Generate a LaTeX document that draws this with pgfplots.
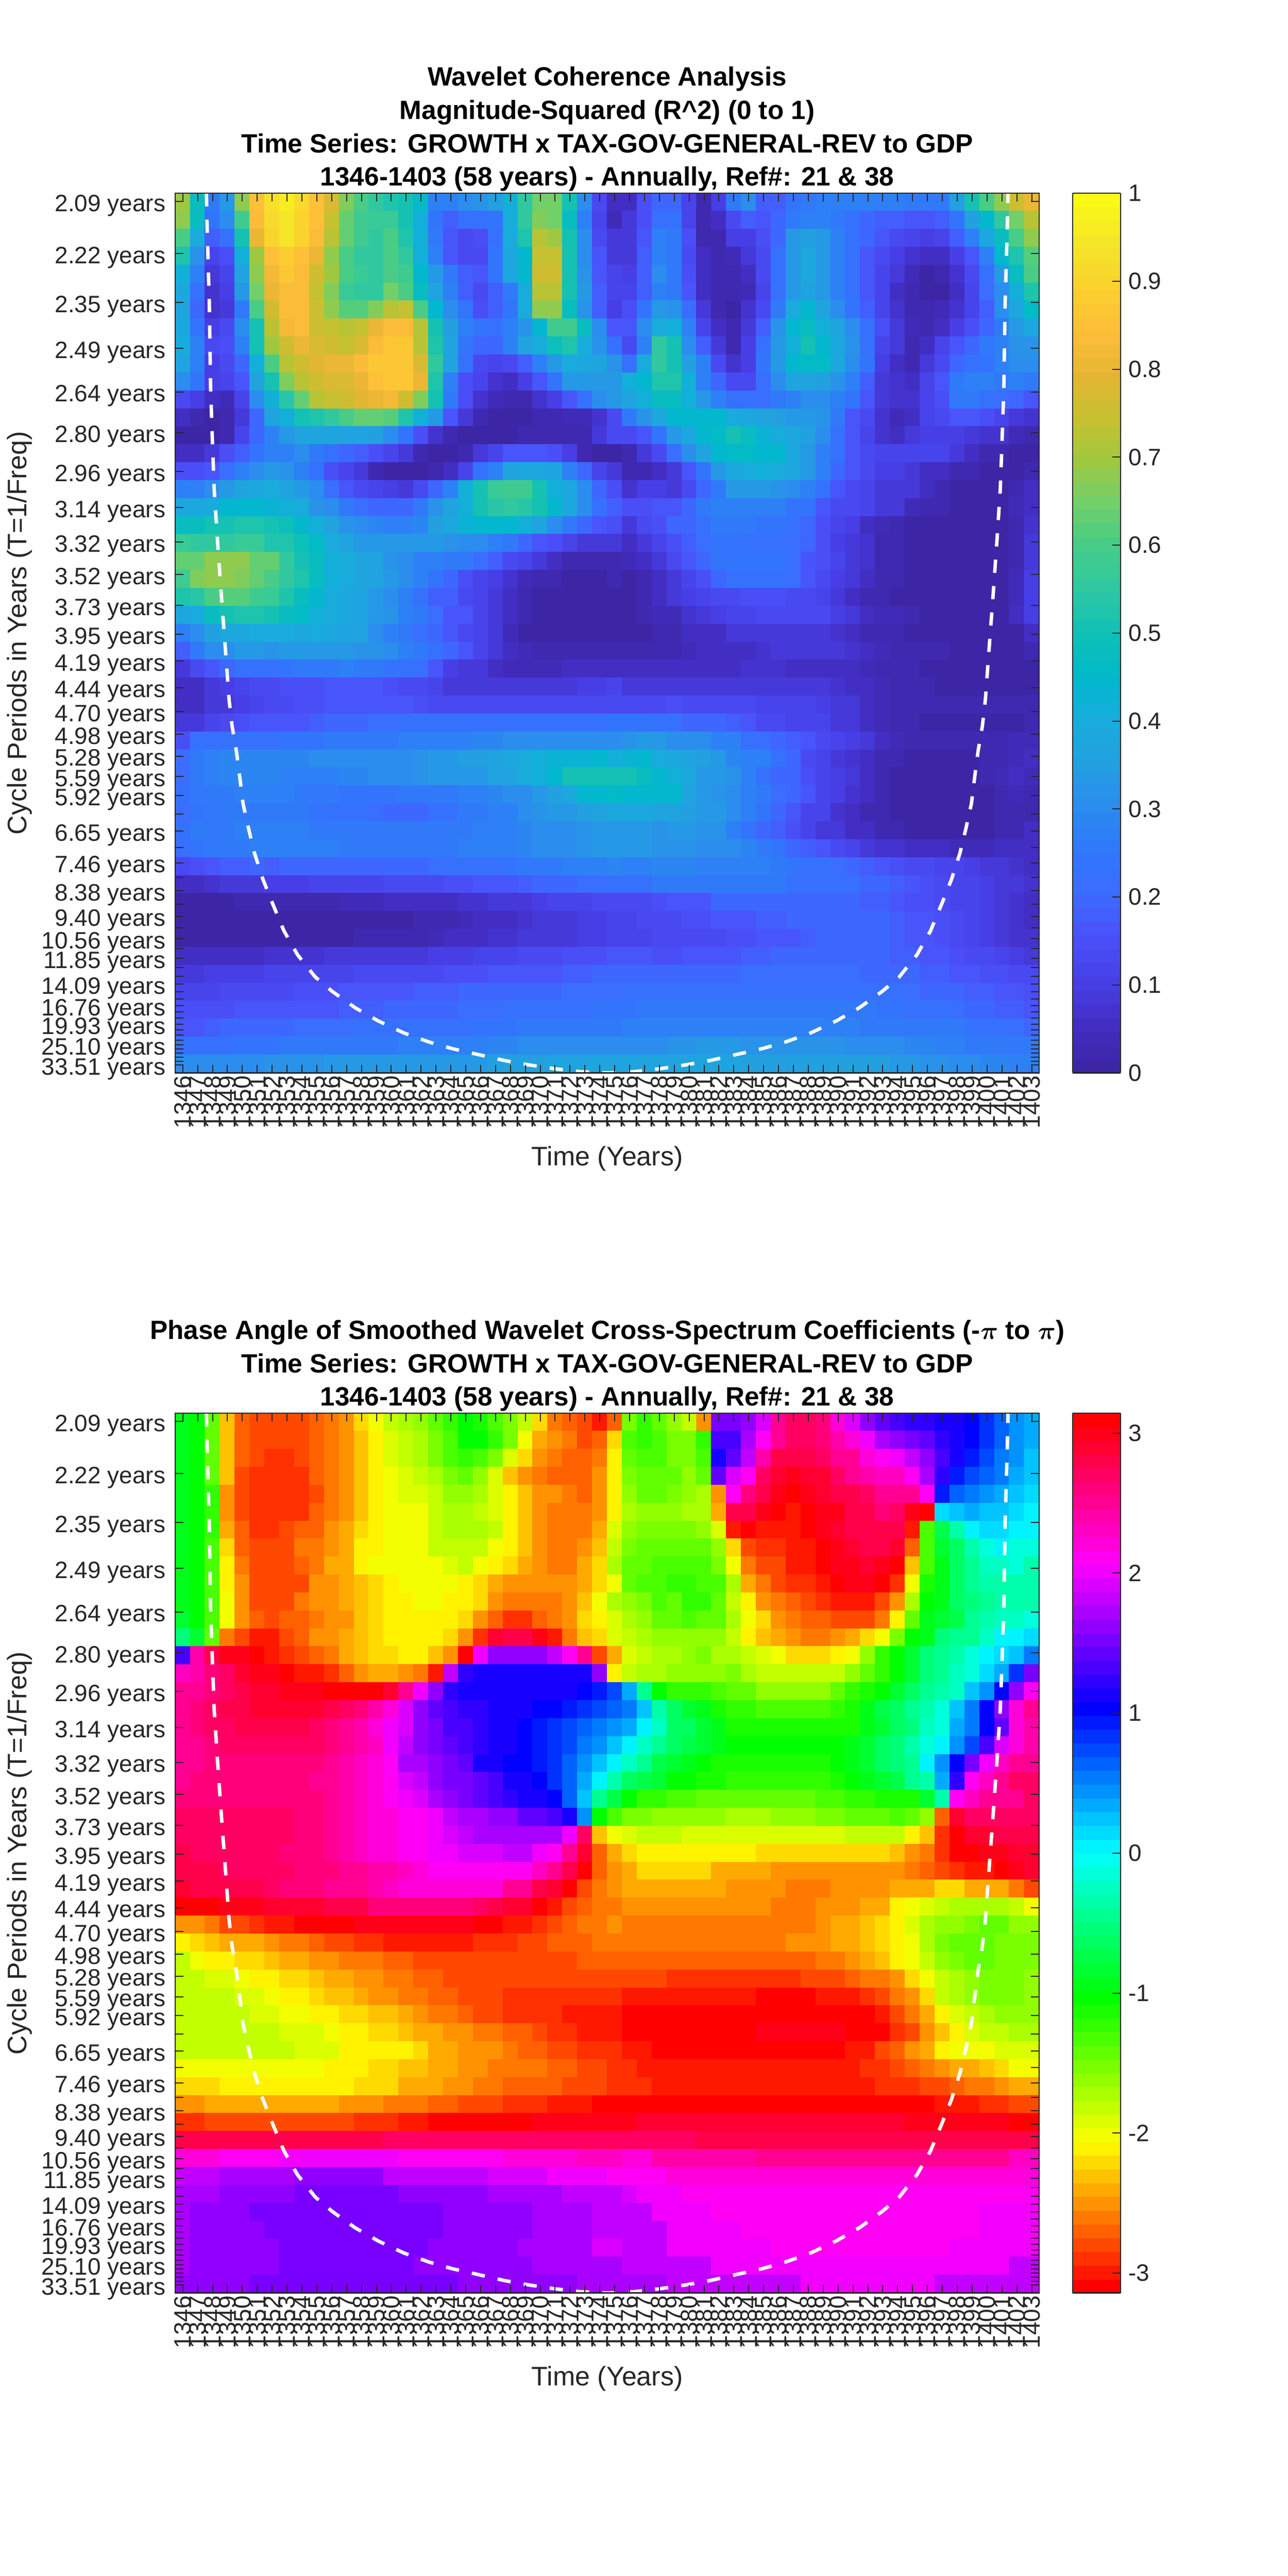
\documentclass[border=0pt]{standalone}
\usepackage{fontspec}
\setmainfont{Liberation Sans}
\usepackage{pgfplots}
\pgfplotsset{compat=1.18}
\definecolor{axc}{HTML}{262626}
\pgfplotsset{
 colormap={wave}{rgb255=(60,38,166) rgb255=(66,46,196) rgb255=(72,64,232) rgb255=(74,80,250) rgb255=(58,108,255) rgb255=(48,120,251) rgb255=(43,140,238) rgb255=(34,160,224) rgb255=(24,172,220) rgb255=(0,184,204) rgb255=(16,192,181) rgb255=(46,200,162) rgb255=(69,204,136) rgb255=(112,208,104) rgb255=(160,200,64) rgb255=(200,192,48) rgb255=(230,181,52) rgb255=(255,189,58) rgb255=(250,210,46) rgb255=(245,229,40) rgb255=(250,250,21)},
 colormap={hsvm}{rgb255=(255,0,0) rgb255=(255,255,0) rgb255=(0,255,0) rgb255=(0,255,255) rgb255=(0,0,255) rgb255=(255,0,255) rgb255=(255,0,0)},
 colormap={wave64}{samples of colormap=(64 of wave)},
 colormap={hsv64}{samples of colormap=(64 of hsvm)},
 wv/.style={
  scale only axis, width=503.16pt, height=512.4pt, anchor=south west,
  xmin=-0.5, xmax=57.5, ymin=0, ymax=2135, y dir=reverse,
  axis on top, tick align=inside, axis line style={axc,line width=0.7pt},
  every tick/.style={axc,line width=0.6pt},
  major tick length=4.8pt,
  xtick={0,...,57},
  xticklabels={1346,1347,1348,1349,1350,1351,1352,1353,1354,1355,1356,1357,1358,1359,1360,1361,1362,1363,1364,1365,1366,1367,1368,1369,1370,1371,1372,1373,1374,1375,1376,1377,1378,1379,1380,1381,1382,1383,1384,1385,1386,1387,1388,1389,1390,1391,1392,1393,1394,1395,1396,1397,1398,1399,1400,1401,1402,1403},
  ytick={20,146,265,376,482,581,675,763,847,925,1000,1070,1135,1200,1258,1313,1366,1416,1462,1507,1548,1588,1625,1660,1693,1725,1755,1783,1809,1833,1857,1879,1900,1919,1938,1955,1972,1987,2002,2017,2030,2043,2055,2067,2077,2087,2097,2107,2116},
  yticklabels={2.09 years,2.22 years,2.35 years,2.49 years,2.64 years,2.80 years,2.96 years,3.14 years,3.32 years,3.52 years,3.73 years,3.95 years,4.19 years,4.44 years,4.70 years,4.98 years,5.28 years,5.59 years,5.92 years,{},6.65 years,{},7.46 years,{},8.38 years,{},9.40 years,{},10.56 years,{},11.85 years,{},{},14.09 years,{},{},16.76 years,{},{},19.93 years,{},{},{},25.10 years,{},{},{},{},33.51 years},
  tick label style={font=\fontsize{13.8}{14}\selectfont,text=axc},
  xticklabel style={rotate=90,anchor=east,inner xsep=1.5pt,inner ysep=0pt},
  yticklabel style={inner xsep=5.5pt,inner ysep=0pt,yshift=-2.4pt},
  xlabel={Time (Years)},
  ylabel={Cycle Periods in Years (T=1/Freq)},
  xlabel style={font=\fontsize{15.6}{16}\selectfont,text=axc,at={(axis description cs:0.5,0)},anchor=center,yshift=-49.9pt},
  ylabel style={font=\fontsize{15.6}{16}\selectfont,text=axc,at={(axis description cs:-0.18,0.5)},anchor=center},
  title style={font=\fontsize{15.4}{19.4}\selectfont\bfseries,align=center,at={(axis description cs:0.5,1)},anchor=south,inner sep=0pt,yshift=-5.1pt},
  colormap access=piecewise constant,
  colorbar sampled,
 },
 wbar/.style={
  scale only axis, width=27.84pt, height=512.4pt,
  at={(parent axis.north east)}, anchor=north west, xshift=11pt,
  samples=65,
  axis line style={axc,line width=0.7pt},
  every tick/.style={axc,line width=0.6pt},
  major tick length=4.8pt, tick align=inside,
  ytick pos=right, yticklabel pos=right, xtick=\empty,
  tick label style={font=\fontsize{13.8}{14}\selectfont,text=axc},
  yticklabel style={inner xsep=4.5pt},
 },
 coi/.style={white,line width=2pt,dash pattern=on 7.7pt off 7.7pt,forget plot},
}
\newcount\wr \newcount\wc \newtoks\wbuf
\def\wadd#1{\wbuf=\expandafter{\the\wbuf #1}}
\def\wendm{e}
\def\wscan#1 {\def\wtmp{#1}\ifx\wtmp\wendm\let\wnext\relax\else
  \ifnum\wc<58
   \edef\wcell{\the\wc\space\the\wr\space #1\noexpand\\ }\expandafter\wadd\expandafter{\wcell}\def\wlast{#1}\advance\wc 1
  \fi\let\wnext\wscan\fi\wnext}
\def\wpad{\ifnum\wc<58 \edef\wcell{\the\wc\space\the\wr\space\wlast\noexpand\\ }\expandafter\wadd\expandafter{\wcell}\advance\wc 1 \expandafter\wpad\fi}
\def\R#1{\wc=0 \wscan#1 e \wpad\advance\wr 1 \ignorespaces}
\newtoks\wtop \newtoks\wbot
\def\wtable#1#2{\addplot[matrix plot*,mesh/cols=58,point meta=explicit,forget plot] table[row sep=\\,header=false,x index=0,y expr={(\thisrowno{1}+0.5)*43.571},meta expr={\thisrowno{2}/#2}] {#1};}
\def\wcoi{\addplot[coi] coordinates {(1.59,0)(1.59,3)(1.64,87)(1.78,263)(1.87,473)(2.0,613)(2.11,719)(2.34,847)(2.59,975)(2.89,1120)(3.11,1229)(3.31,1293)(3.60,1354)(3.83,1418)(4.05,1482)(4.43,1544)(4.82,1602)(5.38,1665)(6.02,1723)(6.79,1790)(7.70,1848)(8.89,1902)(10.03,1937)(11.58,1977)(13.13,2009)(14.84,2038)(16.53,2060)(18.08,2076)(19.91,2091)(21.60,2105)(23.31,2116)(25.00,2125)(26.69,2132)(28.5,2135)(30.31,2132)(32.00,2125)(33.69,2116)(35.40,2105)(37.09,2091)(38.92,2076)(40.47,2060)(42.16,2038)(43.87,2009)(45.42,1977)(46.97,1937)(48.11,1902)(49.30,1848)(50.21,1790)(50.98,1723)(51.62,1665)(52.18,1602)(52.57,1544)(52.95,1482)(53.17,1418)(53.40,1354)(53.69,1293)(53.89,1229)(54.11,1120)(54.41,975)(54.66,847)(54.89,719)(55.0,613)(55.13,473)(55.22,263)(55.36,87)(55.41,3)(55.41,0)};}
\begin{document}
\wbuf={}\wr=0 \ignorespaces
\R{70 48 26 33 68 85 93 96 92 85 78 67 60 56 53 50 46 28 27 30 32 35 42 55 65 65 50 30 13 5 5 15 20 20 12 3 10 26 30 18 18 24 26 27 27 27 27 27 27 26 25 25 35 50 60 68 75 80}
\R{68 47 24 30 58 84 92 95 90 85 74 64 58 57 57 50 42 24 18 22 22 24 40 55 67 65 48 28 12 4 8 15 22 22 12 2 5 14 18 16 20 26 28 28 26 22 20 18 18 16 16 18 24 35 45 56 65 72}
\R{60 40 18 22 50 80 90 94 90 83 72 63 58 56 60 52 42 26 17 13 15 22 40 53 72 70 50 30 13 9 8 17 28 25 15 3 2 10 10 15 20 33 35 33 27 22 20 16 13 11 10 12 18 27 38 48 60 68}
\R{52 32 11 15 42 70 85 89 85 80 68 60 56 56 60 55 42 28 16 14 14 24 38 45 74 74 50 30 16 9 8 18 28 26 14 6 2 4 8 14 22 33 38 34 28 22 16 13 10 7 5 6 10 16 27 44 53 62}
\R{42 28 9 12 36 68 82 86 83 76 70 60 57 56 60 58 45 34 25 18 16 24 38 45 75 75 50 32 17 11 10 18 30 26 15 6 2 3 6 13 22 33 38 33 27 22 17 12 8 4 1 3 7 13 22 33 48 60}
\R{38 22 7 10 33 65 80 84 84 74 66 57 56 56 65 60 48 36 28 18 14 18 26 40 72 72 50 33 18 11 12 18 28 26 16 6 2 3 4 12 22 34 36 33 28 22 16 12 6 2 1 1 5 11 21 31 42 52}
\R{36 20 7 9 26 60 76 84 84 76 68 62 62 66 72 74 60 44 30 24 15 18 24 40 68 68 48 32 18 10 15 24 33 32 21 8 3 1 7 14 26 40 45 36 30 24 18 11 7 3 2 4 7 12 18 30 38 46}
\R{38 24 10 14 30 50 72 82 84 76 74 72 74 80 84 84 72 50 35 28 24 22 27 32 44 58 58 48 30 17 17 30 40 42 28 12 6 3 8 18 32 44 47 42 36 30 22 15 8 4 3 5 10 15 20 26 34 38}
\R{40 28 13 15 28 50 70 76 80 78 75 74 78 83 87 87 72 52 36 24 20 20 28 36 40 49 52 40 32 22 14 28 55 50 30 18 8 3 10 22 33 42 50 45 38 32 22 12 8 3 5 12 16 20 25 28 32 32}
\R{36 28 10 14 20 42 60 72 76 79 80 81 84 86 87 87 78 56 36 22 14 12 13 18 28 34 40 38 36 32 22 40 55 50 35 28 14 7 10 24 34 44 46 46 38 30 24 10 6 3 8 14 20 22 24 28 30 30}
\R{30 24 10 12 17 36 50 66 72 76 77 78 80 85 86 86 80 52 28 15 12 7 5 10 17 24 33 34 34 33 42 45 52 52 42 28 20 14 14 21 30 36 36 35 32 28 18 9 7 5 12 17 26 27 28 26 27 26}
\R{14 10 6 4 11 30 42 54 64 72 74 76 79 80 82 76 66 50 26 15 7 4 3 3 7 10 16 22 30 34 36 42 47 47 42 34 28 22 22 21 26 28 30 30 28 24 16 9 7 7 11 15 26 26 22 21 19 16}
\R{5 3 1 2 8 20 36 42 50 52 56 60 64 64 62 53 42 33 16 8 3 1 1 1 2 3 4 4 7 13 26 32 38 44 45 45 45 40 38 36 35 34 34 32 26 17 13 7 4 6 11 14 16 16 15 11 9 7}
\R{1 1 0 3 12 20 28 34 36 36 36 36 36 35 30 24 15 7 2 0 0 1 1 2 3 3 3 2 8 13 13 17 24 33 38 45 46 50 47 43 40 38 35 30 22 16 11 7 6 8 10 10 10 9 7 7 4 2}
\R{5 6 8 15 18 24 28 28 30 26 22 20 18 15 12 8 2 0 0 3 9 12 16 16 16 15 10 2 0 0 3 8 13 21 30 36 44 46 46 44 44 38 34 28 22 16 13 12 12 12 12 12 8 5 2 2 1 1}
\R{15 15 17 21 28 31 33 32 28 22 15 12 8 3 1 0 0 2 6 12 22 28 36 38 38 36 28 20 12 8 2 2 5 8 16 24 33 38 40 42 40 38 34 27 20 16 13 10 10 8 6 5 3 3 1 1 1 3}
\R{28 28 30 34 36 38 40 36 34 30 21 17 13 12 10 9 13 20 28 42 50 57 58 58 50 42 38 30 20 15 7 10 10 9 13 20 25 33 33 33 32 30 27 22 16 14 12 9 8 8 5 2 1 0 0 1 3 5}
\R{39 39 40 44 44 44 43 41 40 32 30 26 21 19 19 20 25 32 36 42 50 54 56 54 51 44 38 30 23 18 15 15 17 17 20 25 27 28 28 28 28 24 24 17 14 13 12 9 8 4 3 2 0 0 0 0 4 6}
\R{48 48 50 51 52 52 51 49 44 42 36 32 30 29 28 28 29 35 38 43 44 44 44 42 36 30 25 20 16 15 9 13 15 19 20 23 25 25 25 24 24 22 20 15 12 10 6 4 2 1 0 0 0 0 0 0 2 7}
\R{57 55 55 56 57 57 53 52 49 46 40 36 34 34 33 33 33 33 32 31 30 27 25 19 17 15 11 9 8 8 6 8 12 15 18 21 24 24 23 23 23 21 19 15 10 9 7 3 2 1 0 0 0 0 0 0 2 8}
\R{63 64 68 68 68 64 63 56 51 47 42 40 37 36 32 30 28 28 25 25 21 18 14 11 9 6 3 2 2 2 4 6 8 13 16 20 24 24 24 24 24 21 17 15 11 9 7 3 2 0 0 0 0 0 0 0 3 9}
\R{58 66 68 68 66 64 60 55 52 48 42 40 36 36 34 30 28 24 20 15 12 10 7 4 2 2 0 0 0 2 1 3 6 9 11 15 19 22 22 22 22 21 17 13 10 9 6 2 2 0 0 0 0 0 0 0 4 10}
\R{52 54 60 62 62 59 57 52 48 44 40 38 36 33 31 28 22 18 18 14 12 9 5 3 0 0 0 0 0 0 1 3 5 8 10 12 13 13 15 15 15 14 14 12 9 5 3 2 0 0 0 0 0 0 0 0 4 10}
\R{38 40 48 50 52 53 50 48 46 42 40 38 36 34 32 28 25 21 16 16 11 8 5 3 0 0 0 0 0 0 1 2 4 4 7 9 10 12 12 13 14 13 13 13 10 8 6 4 4 2 0 0 0 0 0 1 6 10}
\R{27 30 35 38 39 40 40 40 38 40 38 36 36 30 28 26 21 20 16 14 12 8 4 1 0 0 0 0 0 0 1 1 3 3 5 6 6 8 9 9 9 9 9 9 7 5 3 3 2 1 0 0 0 0 1 1 1 5}
\R{18 25 30 30 33 33 32 34 34 34 34 33 32 32 30 28 26 23 20 16 12 9 6 4 3 2 2 2 2 2 3 3 3 3 4 5 6 6 6 7 8 8 9 9 8 7 5 4 3 3 3 3 1 1 1 1 1 3}
\R{9 13 17 20 22 22 23 24 25 25 26 27 26 26 24 23 21 16 10 9 8 6 4 4 4 4 5 6 6 5 6 6 5 6 6 6 6 6 7 7 7 6 6 6 6 5 4 3 3 2 1 1 1 1 1 1 1 1}
\R{5 6 8 10 12 13 14 15 15 15 16 17 17 17 15 14 13 12 9 8 8 8 8 8 9 9 9 10 10 11 9 9 9 9 9 9 9 9 9 9 9 9 8 8 7 6 5 4 3 3 2 1 1 1 1 1 1 1}
\R{5 6 8 9 10 12 13 14 15 15 16 17 17 16 16 16 15 14 13 13 13 13 13 13 13 13 13 14 14 14 13 13 14 15 14 14 13 13 13 12 11 11 11 10 9 8 6 4 3 2 2 2 2 2 2 2 2 3}
\R{9 9 12 14 15 16 16 17 17 18 19 20 20 21 21 22 22 22 22 22 22 22 23 23 23 23 23 23 23 24 24 24 22 22 20 20 20 18 16 14 13 12 11 11 9 8 6 4 3 3 1 1 1 1 0 0 1 3}
\R{15 22 22 22 23 23 23 24 24 24 25 25 25 26 26 27 27 27 28 28 29 29 30 30 31 31 31 31 31 31 32 33 33 31 30 30 28 27 23 21 20 18 17 14 12 10 8 6 4 3 2 2 2 2 3 3 4 4}
\R{21 25 27 29 29 29 29 29 29 30 30 30 30 30 31 31 32 33 34 35 35 36 38 40 42 43 43 43 44 42 43 44 40 38 37 35 33 29 28 27 22 19 14 11 9 7 5 3 3 0 0 0 1 1 3 3 4 5}
\R{21 25 28 29 29 29 29 28 28 28 28 29 29 30 31 31 32 33 33 34 34 36 36 40 42 44 50 50 50 50 50 48 44 41 38 33 34 32 27 22 20 20 15 12 10 8 5 3 1 1 1 1 1 1 2 4 5 4}
\R{22 25 26 26 27 27 27 27 25 25 25 24 24 24 24 25 25 25 26 27 28 29 30 31 33 35 38 44 45 46 45 45 44 44 36 34 32 30 28 25 21 20 17 12 10 7 5 3 1 0 1 1 1 1 1 3 4 3}
\R{21 24 26 26 26 26 26 26 25 24 23 22 22 21 20 20 20 22 22 25 26 28 28 30 32 34 34 35 37 38 38 38 36 36 35 33 33 30 27 24 20 16 12 11 7 5 3 2 1 1 1 1 1 1 1 2 2 2}
\R{23 25 26 26 27 27 27 27 27 26 26 26 26 25 25 25 25 25 26 26 27 28 28 29 30 31 31 32 33 34 33 33 32 33 33 32 32 27 24 19 18 15 11 9 8 6 5 3 2 1 1 1 1 1 1 2 3 5}
\R{21 24 26 26 26 27 27 27 27 27 27 26 26 26 26 26 26 26 26 27 27 28 28 29 30 30 31 32 33 34 33 33 32 32 32 31 30 30 29 25 24 20 18 17 13 12 9 7 7 6 5 5 4 4 4 5 5 6}
\R{14 15 17 18 18 19 18 19 20 20 20 20 20 20 20 20 20 21 22 22 22 23 24 25 25 26 27 27 28 29 28 28 29 29 29 28 28 28 27 27 26 24 23 22 21 20 18 16 15 14 13 12 11 10 9 8 7 6}
\R{5 5 7 9 9 9 10 10 10 11 11 12 12 12 13 14 14 14 15 15 16 17 17 18 19 19 20 21 21 22 22 23 25 25 26 26 26 25 25 25 25 23 23 23 22 22 20 20 18 17 15 13 12 11 10 8 8 7}
\R{1 1 1 1 2 2 2 2 2 3 3 4 4 4 5 5 5 6 6 7 7 8 9 9 10 11 11 12 13 13 14 13 15 16 16 17 19 19 19 20 20 20 20 20 20 20 18 18 17 15 15 13 12 11 10 8 7 5}
\R{0 0 0 0 0 0 0 0 0 0 0 0 0 1 1 1 2 2 2 4 5 6 6 7 8 9 9 10 10 11 12 13 14 14 15 15 16 16 17 18 18 19 19 20 20 20 20 19 18 17 16 15 13 12 10 8 7 6}
\R{1 1 1 1 1 1 1 1 1 1 1 1 2 2 3 3 3 4 5 5 6 7 7 8 8 9 9 10 10 11 11 12 13 13 13 14 14 15 15 16 17 17 18 20 20 20 19 19 18 17 16 15 14 12 10 8 7 7}
\R{6 6 6 6 6 6 7 7 7 7 8 8 8 9 9 9 9 10 10 10 11 11 12 13 14 14 15 15 15 16 16 16 15 15 16 16 17 17 18 18 19 19 19 20 20 20 20 19 18 18 17 16 15 14 13 11 10 9}
\R{9 9 10 10 10 10 11 11 11 11 12 12 13 13 13 13 14 14 15 15 15 16 17 17 17 17 18 18 19 19 19 19 19 20 20 20 20 20 21 21 21 21 21 21 21 21 20 20 20 19 18 18 17 16 15 15 13 13}
\R{12 12 12 13 13 14 14 14 15 15 15 16 16 17 17 17 18 18 18 19 19 19 20 20 20 20 21 21 21 21 22 22 23 23 23 23 23 23 23 23 23 23 23 23 23 23 22 22 22 21 20 20 19 18 18 16 16 15}
\R{15 15 15 15 16 16 16 16 17 17 17 18 18 18 19 19 19 20 20 21 21 21 22 22 22 23 23 23 24 24 24 25 25 25 25 25 25 25 25 25 25 25 25 25 25 25 25 24 24 23 23 22 21 20 19 18 18 17}
\R{16 17 18 19 19 19 20 20 21 21 21 21 22 22 22 22 22 23 23 23 24 24 24 25 25 26 26 26 26 26 27 27 27 27 28 28 28 28 28 28 27 27 27 27 27 27 26 26 26 25 25 25 25 24 23 23 21 20}
\R{22 22 23 23 24 24 24 25 25 25 25 26 26 26 26 27 27 28 28 28 28 29 29 30 30 30 30 31 31 31 31 31 31 32 32 33 33 33 32 32 32 32 32 32 32 31 31 30 30 29 29 28 27 26 26 26 25 25}
\R{30 30 31 31 31 31 32 32 32 32 33 33 33 33 33 34 34 34 34 34 34 35 35 35 35 36 36 36 36 36 37 37 36 36 36 36 36 36 35 35 35 35 35 35 35 35 35 35 34 33 32 32 31 30 29 29 28 27}
\wtop=\expandafter{\the\wbuf}\wbuf={}\wr=0 \ignorespaces
\R{-9 -10 -14 -23 -27 -28 -28 -28 -28 -27 -26 -25 -22 -20 -18 -17 -16 -14 -12 -10 -11 -13 -15 -18 -22 -26 -27 -28 -30 -27 -15 -12 -14 -16 -18 -25 15 15 16 19 25 27 27 26 22 19 16 14 13 12 12 11 11 10 8 6 4 3}
\R{-9 -10 -14 -23 -27 -28 -28 -28 -28 -27 -26 -25 -23 -21 -19 -18 -17 -15 -13 -10 -10 -12 -15 -20 -24 -25 -26 -28 -27 -22 -13 -12 -13 -15 -15 -12 13 13 17 21 25 27 27 26 24 22 20 17 16 15 14 12 11 10 8 6 4 3}
\R{-9 -10 -14 -23 -27 -28 -29 -29 -28 -27 -26 -25 -23 -21 -19 -18 -17 -15 -13 -12 -13 -15 -19 -22 -25 -26 -27 -27 -26 -21 -14 -13 -13 -15 -15 -13 11 14 18 24 28 28 28 27 25 25 22 21 20 18 16 13 11 9 7 5 4 2}
\R{-9 -10 -14 -23 -28 -29 -29 -29 -29 -27 -26 -25 -23 -21 -20 -19 -18 -17 -15 -14 -16 -19 -23 -25 -26 -27 -27 -27 -25 -21 -15 -14 -14 -14 -16 -14 14 19 21 27 29 30 29 29 27 25 24 23 23 21 17 12 9 7 6 5 3 2}
\R{-9 -10 -12 -25 -28 -29 -29 -29 -29 -28 -26 -25 -23 -21 -20 -19 -19 -18 -16 -16 -17 -19 -21 -23 -25 -25 -26 -27 -25 -21 -16 -14 -14 -15 -16 -17 -25 21 26 28 30 31 30 29 28 28 27 25 25 25 21 9 6 5 4 3 2 1}
\R{-9 -10 -12 -25 -28 -29 -29 -29 -29 -27 -26 -25 -23 -21 -20 -20 -20 -18 -17 -17 -18 -19 -21 -23 -25 -26 -26 -26 -25 -21 -17 -16 -16 -16 -17 -17 -24 28 28 30 31 -30 31 30 30 28 28 26 27 30 -31 1 2 3 2 2 1 0}
\R{-9 -10 -12 -24 -27 -29 -29 -28 -27 -27 -25 -24 -22 -21 -20 -20 -20 -18 -17 -17 -17 -18 -21 -23 -25 -26 -26 -26 -24 -19 -16 -15 -15 -15 -15 -16 -19 -30 31 -30 -30 -30 31 30 29 28 28 28 28 -30 -13 -7 -3 0 1 1 0 0}
\R{-9 -10 -13 -22 -27 -28 -28 -28 -26 -26 -25 -24 -21 -21 -20 -20 -20 -18 -18 -18 -18 -20 -21 -23 -25 -26 -26 -25 -23 -18 -15 -14 -14 -14 -14 -14 -16 -22 -28 -29 -29 -30 -30 31 30 29 28 28 29 -27 -13 -8 -6 -3 -1 0 -1 -1}
\R{-9 -10 -13 -21 -26 -28 -28 -28 -27 -26 -24 -24 -21 -20 -20 -20 -20 -20 -19 -18 -20 -21 -22 -24 -25 -26 -26 -24 -22 -17 -14 -14 -13 -13 -13 -13 -15 -20 -26 -28 -28 -30 -30 31 30 30 29 30 31 -23 -13 -9 -6 -4 -2 -2 -1 -3}
\R{-9 -10 -13 -21 -25 -28 -28 -28 -28 -25 -25 -24 -23 -22 -21 -20 -20 -20 -20 -21 -22 -24 -25 -25 -25 -25 -25 -24 -22 -20 -14 -13 -13 -12 -12 -13 -13 -17 -24 -26 -28 -29 -29 -30 -31 30 30 31 -29 -20 -11 -9 -6 -4 -3 -3 -3 -3}
\R{-9 -10 -13 -20 -25 -28 -28 -28 -26 -25 -25 -24 -23 -22 -21 -21 -20 -20 -21 -21 -22 -25 -26 -26 -26 -26 -25 -23 -20 -17 -16 -15 -13 -14 -12 -12 -14 -18 -21 -25 -26 -27 -28 -29 -30 -30 -30 -28 -25 -17 -10 -9 -6 -5 -4 -3 -3 -3}
\R{-8 -10 -13 -20 -25 -27 -28 -27 -27 -26 -25 -25 -23 -22 -21 -21 -21 -21 -21 -22 -25 -27 -29 -29 -27 -26 -25 -22 -21 -19 -17 -16 -14 -14 -13 -14 -14 -17 -20 -22 -25 -26 -27 -27 -28 -28 -28 -26 -21 -14 -9 -8 -7 -4 -3 -2 -2 -1}
\R{-5 -8 -14 -26 -28 -30 -30 -28 -27 -25 -25 -24 -23 -22 -21 -21 -21 -21 -22 -25 -29 29 28 28 30 -30 -26 -23 -22 -19 -18 -17 -16 -16 -16 -16 -16 -18 -21 -23 -24 -25 -26 -26 -25 -24 -22 -20 -15 -10 -9 -5 -4 -4 -2 0 0 1}
\R{13 24 28 30 30 31 -30 -29 -28 -27 -26 -24 -23 -22 -22 -21 -21 -23 -25 31 20 16 16 16 16 18 21 25 -28 -24 -19 -18 -17 -17 -16 -15 -17 -17 -18 -19 -20 -22 -22 -22 -21 -20 -16 -12 -10 -8 -5 -4 -3 -1 0 1 2 5}
\R{23 24 26 27 29 30 30 31 -30 -30 -29 -27 -25 -24 -24 -25 -26 -30 18 12 11 11 11 11 11 11 11 11 16 -21 -18 -17 -17 -16 -16 -16 -16 -15 -17 -18 -18 -18 -18 -18 -18 -16 -14 -12 -10 -8 -5 -4 -2 -1 1 3 8 15}
\R{25 25 26 27 28 29 29 30 30 30 31 31 31 31 29 25 20 16 12 11 11 11 11 11 11 11 11 10 9 7 3 -4 -10 -12 -12 -12 -13 -14 -14 -16 -16 -16 -16 -16 -14 -12 -11 -10 -8 -6 -4 -3 -2 2 4 10 16 21}
\R{25 26 27 28 28 29 29 29 29 29 28 27 26 24 22 19 16 14 13 12 12 11 11 11 10 10 9 8 7 6 5 2 -3 -6 -8 -9 -11 -12 -12 -13 -13 -13 -13 -13 -12 -11 -9 -7 -6 -4 -3 -1 2 5 10 16 22 25}
\R{25 26 27 27 28 28 28 28 28 27 26 25 24 22 20 19 16 15 13 13 12 11 11 10 9 8 7 6 5 4 3 0 -2 -6 -6 -8 -9 -11 -11 -11 -11 -11 -11 -11 -11 -11 -9 -8 -6 -5 -2 -1 3 5 10 14 22 24}
\R{25 25 26 27 27 27 27 27 27 27 26 25 24 23 20 18 16 15 14 13 12 11 11 10 9 8 7 5 4 2 0 -2 -4 -6 -7 -8 -9 -10 -10 -10 -10 -10 -10 -10 -10 -9 -8 -6 -5 -3 -1 0 4 7 13 19 22 24}
\R{25 25 26 26 26 26 26 26 26 26 25 24 23 22 21 17 17 16 15 14 11 11 10 10 9 8 6 4 2 0 -2 -4 -7 -8 -9 -10 -11 -11 -11 -11 -11 -11 -11 -11 -10 -9 -8 -6 -5 -4 0 4 10 15 20 23 25 25}
\R{25 26 26 26 26 26 26 26 26 25 25 24 23 22 21 19 18 16 15 15 14 13 11 11 10 8 6 3 0 -3 -6 -7 -8 -10 -10 -11 -11 -12 -12 -12 -12 -12 -12 -12 -11 -10 -9 -8 -7 -4 -3 3 12 21 23 25 27 27}
\R{26 26 26 26 26 26 26 26 26 26 25 24 23 22 21 20 19 17 16 15 14 13 12 11 11 10 6 2 -4 -7 -10 -12 -12 -13 -13 -14 -14 -14 -14 -14 -14 -14 -14 -13 -13 -12 -12 -11 -11 -11 -8 -3 21 23 25 25 25 27}
\R{27 27 27 27 27 27 27 27 26 26 25 24 23 22 22 21 21 20 18 17 17 16 16 14 14 13 11 4 -10 -13 -15 -15 -16 -16 -16 -16 -16 -17 -17 -17 -16 -16 -16 -15 -15 -14 -14 -14 -13 -14 -16 -27 29 27 27 27 27 27}
\R{27 27 27 27 27 27 27 27 26 26 25 24 23 22 22 21 21 20 19 18 17 17 17 17 17 17 20 27 -23 -20 -19 -18 -18 -18 -19 -19 -19 -19 -19 -19 -19 -19 -19 -19 -19 -18 -18 -18 -18 -21 -23 -29 31 29 29 28 28 28}
\R{28 27 27 27 27 27 27 26 26 26 25 24 23 22 22 21 21 20 20 19 19 19 18 18 20 21 25 29 -27 -24 -22 -21 -21 -21 -21 -21 -21 -21 -21 -22 -22 -22 -22 -22 -22 -22 -22 -22 -23 -25 -26 -29 -31 31 30 30 29 29}
\R{28 28 28 27 27 27 27 27 26 26 26 25 25 24 24 23 22 21 21 21 21 21 21 21 23 25 28 -31 -27 -25 -24 -22 -22 -22 -22 -22 -24 -24 -24 -24 -25 -25 -25 -25 -25 -25 -25 -25 -25 -26 -27 -28 -29 -30 -30 -31 30 29}
\R{29 28 28 28 28 28 27 26 26 26 25 25 25 24 23 22 22 22 22 22 22 22 25 25 28 29 31 -28 -26 -25 -24 -24 -24 -24 -24 -24 -24 -25 -25 -25 -25 -26 -26 -26 -25 -25 -25 -25 -24 -24 -24 -22 -22 -24 -24 -24 -26 -28}
\R{31 31 -31 30 30 30 29 29 29 29 28 28 28 26 26 26 26 26 26 26 27 28 29 29 31 -30 -28 -27 -26 -26 -25 -25 -25 -25 -25 -25 -25 -25 -25 -25 -26 -26 -26 -25 -25 -25 -24 -24 -21 -20 -19 -18 -17 -17 -17 -17 -18 -20}
\R{-25 -25 -26 -28 -28 -29 -30 -30 -31 -31 -31 -31 30 30 30 30 30 30 30 30 31 31 -30 -30 -29 -28 -27 -26 -26 -25 -26 -26 -26 -26 -26 -26 -26 -26 -26 -26 -26 -26 -26 -25 -24 -24 -23 -22 -21 -19 -17 -16 -16 -15 -14 -14 -16 -16}
\R{-21 -22 -23 -24 -24 -24 -25 -26 -26 -27 -28 -28 -29 -29 -30 -30 -30 -30 -30 -30 -29 -29 -29 -28 -28 -27 -27 -27 -26 -26 -26 -26 -26 -26 -26 -26 -26 -26 -26 -26 -26 -25 -25 -25 -24 -24 -23 -22 -21 -20 -17 -15 -14 -14 -14 -15 -15 -15}
\R{-18 -20 -21 -21 -22 -22 -23 -24 -24 -25 -25 -26 -26 -26 -27 -27 -28 -28 -28 -28 -28 -28 -28 -28 -28 -28 -28 -27 -27 -27 -27 -27 -27 -27 -27 -27 -27 -27 -27 -27 -27 -27 -27 -26 -26 -25 -24 -23 -21 -20 -18 -16 -15 -14 -14 -15 -15 -15}
\R{-18 -18 -19 -19 -20 -21 -21 -22 -22 -23 -24 -24 -25 -25 -26 -26 -27 -27 -28 -28 -28 -28 -28 -28 -28 -28 -28 -28 -28 -28 -28 -28 -28 -29 -29 -29 -29 -29 -29 -29 -29 -29 -28 -28 -28 -27 -26 -26 -25 -22 -20 -18 -17 -16 -15 -15 -15 -16}
\R{-18 -18 -18 -18 -19 -19 -20 -21 -21 -22 -23 -23 -24 -25 -25 -26 -26 -27 -27 -28 -28 -28 -29 -29 -29 -29 -29 -29 -29 -29 -30 -30 -30 -30 -30 -30 -30 -30 -30 -31 -31 -31 -31 -30 -30 -30 -29 -28 -26 -25 -22 -18 -17 -16 -15 -15 -15 -16}
\R{-18 -18 -18 -18 -18 -19 -19 -20 -20 -21 -21 -22 -22 -23 -23 -24 -25 -26 -26 -27 -28 -28 -29 -29 -29 -29 -30 -30 -30 -30 -31 -31 -31 -31 -31 -31 31 31 31 31 31 31 31 31 31 31 -31 -30 -28 -26 -24 -21 -19 -18 -17 -16 -16 -16}
\R{-18 -18 -18 -18 -18 -18 -18 -19 -19 -19 -20 -21 -21 -22 -22 -23 -24 -24 -25 -25 -26 -26 -27 -27 -28 -29 -29 -30 -30 -30 -31 -31 -31 -31 31 31 31 31 31 30 30 30 30 30 30 31 31 -31 -29 -28 -25 -23 -21 -19 -18 -18 -17 -17}
\R{-18 -18 -18 -18 -18 -18 -18 -18 -19 -19 -19 -21 -21 -21 -21 -21 -22 -24 -24 -25 -25 -25 -26 -27 -27 -28 -28 -29 -29 -29 -30 -30 -31 -31 -31 -31 -31 31 31 31 31 31 31 -31 -31 -30 -30 -28 -27 -25 -24 -21 -20 -20 -20 -19 -19 -19}
\R{-20 -20 -20 -20 -20 -20 -20 -20 -20 -20 -21 -21 -21 -22 -22 -23 -23 -24 -24 -25 -25 -26 -26 -26 -26 -27 -27 -28 -28 -29 -29 -30 -30 -30 -30 -30 -30 -30 -30 -30 -30 -30 -30 -30 -30 -30 -29 -29 -28 -27 -26 -25 -24 -24 -23 -22 -20 -20}
\R{-22 -22 -22 -21 -21 -21 -21 -21 -21 -21 -21 -21 -22 -22 -22 -24 -24 -24 -25 -25 -26 -26 -27 -27 -27 -27 -28 -28 -28 -29 -29 -29 -30 -30 -30 -30 -30 -30 -30 -30 -30 -30 -30 -30 -30 -30 -30 -29 -29 -29 -28 -28 -27 -26 -26 -25 -24 -24}
\R{-25 -25 -24 -24 -24 -24 -24 -24 -24 -24 -24 -25 -25 -25 -26 -26 -26 -27 -27 -28 -28 -28 -29 -29 -29 -30 -30 -30 -31 -31 -31 -31 -31 -31 -31 -31 31 31 31 31 31 31 31 31 31 31 -31 -31 -31 -31 -31 -30 -30 -30 -29 -29 -28 -28}
\R{-29 -29 -28 -28 -28 -28 -28 -28 -28 -28 -28 -28 -29 -29 -29 -30 -30 -31 -31 -31 -31 -31 -31 31 30 30 30 30 30 30 30 29 29 29 29 29 29 29 29 29 29 29 29 29 29 29 29 29 29 30 30 30 30 30 30 30 31 31}
\R{28 28 28 28 28 28 28 28 28 28 28 28 28 28 27 27 27 27 27 27 27 27 27 27 27 27 27 27 27 27 27 27 27 27 27 28 28 28 28 28 28 28 28 28 28 28 28 28 28 28 28 28 28 28 28 28 28 28}
\R{22 22 22 21 21 21 21 20 20 20 20 20 20 20 20 21 21 21 21 21 21 21 22 22 22 22 22 23 23 23 22 22 24 24 24 24 24 24 24 25 25 25 25 25 25 25 25 25 25 25 25 25 25 25 25 25 23 23}
\R{18 18 18 17 17 17 17 17 16 16 16 16 16 16 18 18 18 18 18 18 18 19 19 19 19 20 20 20 20 21 21 21 21 22 22 22 22 22 22 22 22 22 22 22 22 22 22 22 22 22 22 22 22 22 22 22 22 22}
\R{17 17 17 16 16 16 16 16 15 15 15 15 15 15 15 16 16 16 16 16 16 17 17 17 17 17 18 18 18 18 19 20 20 20 21 21 21 21 21 21 21 21 21 21 21 21 21 21 21 21 21 21 21 21 21 21 21 21}
\R{17 16 16 16 16 15 15 15 15 15 15 15 15 15 15 15 15 15 16 16 16 16 16 16 17 17 17 17 18 18 18 18 20 20 20 20 21 21 21 21 21 21 21 21 21 21 21 21 21 21 21 21 21 21 20 20 20 20}
\R{17 16 16 16 16 16 15 15 15 15 15 15 15 15 15 15 15 15 16 16 16 16 16 16 17 17 17 17 18 18 18 18 18 20 20 20 20 20 21 21 21 21 21 21 21 21 21 21 21 21 21 21 21 21 20 20 20 20}
\R{17 16 16 16 16 16 16 15 15 15 15 15 15 15 15 15 15 16 16 16 16 16 16 17 17 17 17 17 19 19 18 18 18 20 20 20 20 20 20 20 21 21 21 21 21 21 21 21 21 21 21 21 20 20 20 20 20 20}
\R{17 16 16 16 16 16 16 15 15 15 15 15 15 15 15 15 16 16 16 16 16 16 16 16 17 17 17 17 17 17 18 18 18 18 18 18 20 20 20 20 20 20 20 20 20 20 20 20 20 20 20 20 20 20 20 20 18 18}
\R{16 16 16 16 16 15 15 15 15 15 15 15 15 15 15 15 15 15 15 16 16 16 16 16 16 16 16 17 17 17 17 17 17 18 18 18 18 18 18 18 18 18 20 20 20 20 20 20 20 20 20 18 18 18 18 18 18 18}
\wbot=\expandafter{\the\wbuf}%
\begin{tikzpicture}[x=1pt,y=1pt]
\useasboundingbox (0,0) rectangle (750,1500.48);
\begin{axis}[wv,at={(102.12pt,875.52pt)},
 colormap name=wave64, point meta min=0, point meta max=1,
 title={Wavelet Coherence Analysis\\Magnitude-Squared (R\^{}2) (0 to 1)\\Time Series: GROWTH x TAX-GOV-GENERAL-REV to GDP\\1346-1403 (58 years) - Annually, Ref\#: 21 \& 38},
 colorbar style={wbar,ytick={0,0.1,0.2,0.3,0.4,0.5,0.6,0.7,0.8,0.9,1},yticklabels={0,0.1,0.2,0.3,0.4,0.5,0.6,0.7,0.8,0.9,1}},
]
\expandafter\wtable\expandafter{\the\wtop}{100}
\wcoi
\end{axis}
\begin{axis}[wv,at={(102.12pt,164.88pt)},
 colormap name=hsv64, point meta min=-3.14159, point meta max=3.14159,
 title={Phase Angle of Smoothed Wavelet Cross-Spectrum Coefficients (-{\boldmath$\pi$} to {\boldmath$\pi$})\\Time Series: GROWTH x TAX-GOV-GENERAL-REV to GDP\\1346-1403 (58 years) - Annually, Ref\#: 21 \& 38},
 colorbar style={wbar,ytick={-3,-2,-1,0,1,2,3},yticklabels={-3,-2,-1,0,1,2,3}},
]
\expandafter\wtable\expandafter{\the\wbot}{10}
\wcoi
\end{axis}
\end{tikzpicture}
\end{document}
